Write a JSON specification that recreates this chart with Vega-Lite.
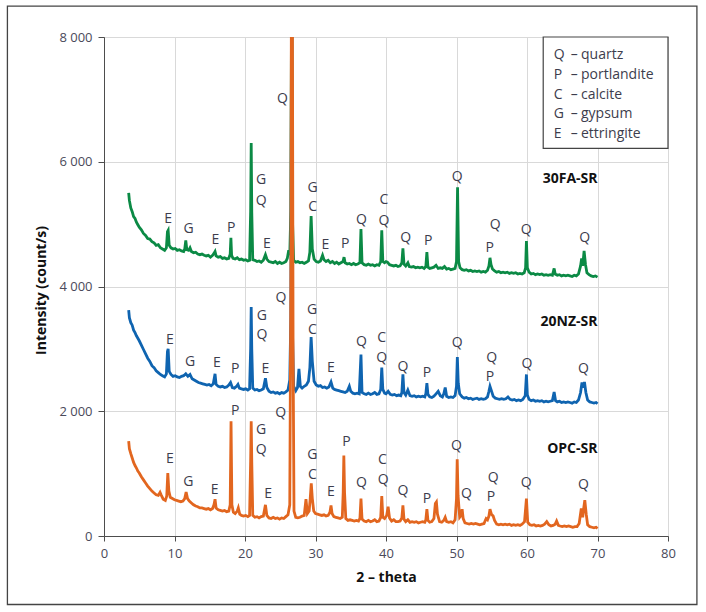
{
  "$schema": "https://vega.github.io/schema/vega-lite/v6.json",
  "width": 564,
  "height": 499,
  "autosize": {"type": "none"},
  "padding": {"left": 104, "top": 37, "right": 38, "bottom": 76},
  "background": "white",
  "config": {
    "font": "Open Sans",
    "view": {"stroke": "#4d4d4d", "strokeWidth": 1},
    "axis": {
      "domainColor": "#4d4d4d",
      "tickColor": "#4d4d4d",
      "gridColor": "#d9d9d9",
      "labelColor": "#4a4a5a",
      "labelFont": "Open Sans",
      "labelFontSize": 13,
      "titleFont": "Open Sans",
      "titleFontSize": 14,
      "titleFontWeight": "bold",
      "titleColor": "#111111"
    },
    "text": {"font": "Open Sans"}
  },
  "datasets": {
    "frame": [{"x": -13.7, "x2": 84.1, "y": -1098, "y2": 8494}],
    "legendbox": [{"x": 62.3, "x2": 80, "y": 6213, "y2": 8000}],
    "legend": [
      {"x": 63.8, "y": 7710, "t": "Q"}, {"x": 66.2, "y": 7710, "t": "–"}, {"x": 67.66, "y": 7710, "t": "quartz"},
      {"x": 63.8, "y": 7395, "t": "P"}, {"x": 66.2, "y": 7395, "t": "–"}, {"x": 67.66, "y": 7395, "t": "portlandite"},
      {"x": 63.8, "y": 7078, "t": "C"}, {"x": 66.2, "y": 7078, "t": "–"}, {"x": 67.66, "y": 7078, "t": "calcite"},
      {"x": 63.8, "y": 6758, "t": "G"}, {"x": 66.2, "y": 6758, "t": "–"}, {"x": 67.66, "y": 6758, "t": "gypsum"},
      {"x": 63.8, "y": 6437, "t": "E"}, {"x": 66.2, "y": 6437, "t": "–"}, {"x": 67.66, "y": 6437, "t": "ettringite"}
    ],
    "names": [
      {"x": 70, "y": 5730, "t": "30FA-SR"},
      {"x": 70, "y": 3430, "t": "20NZ-SR"},
      {"x": 70, "y": 1400, "t": "OPC-SR"}
    ],
    "labels": [
      {"x": 9.1, "y": 5080, "t": "E"}, {"x": 12.0, "y": 4920, "t": "G"}, {"x": 15.8, "y": 4740, "t": "E"},
      {"x": 18.06, "y": 4930, "t": "P"}, {"x": 22.3, "y": 5700, "t": "G"}, {"x": 22.3, "y": 5370, "t": "Q"},
      {"x": 23.1, "y": 4680, "t": "E"}, {"x": 25.3, "y": 7010, "t": "Q"}, {"x": 29.6, "y": 5580, "t": "G"},
      {"x": 29.6, "y": 5270, "t": "C"}, {"x": 31.4, "y": 4660, "t": "E"}, {"x": 34.2, "y": 4680, "t": "P"},
      {"x": 36.5, "y": 5060, "t": "Q"}, {"x": 39.7, "y": 5380, "t": "C"}, {"x": 39.7, "y": 5050, "t": "Q"},
      {"x": 42.8, "y": 4780, "t": "Q"}, {"x": 46.0, "y": 4730, "t": "P"}, {"x": 50.1, "y": 5760, "t": "Q"},
      {"x": 55.5, "y": 4980, "t": "Q"}, {"x": 54.7, "y": 4610, "t": "P"}, {"x": 59.9, "y": 4910, "t": "Q"},
      {"x": 68.2, "y": 4770, "t": "Q"},
      {"x": 9.36, "y": 3150, "t": "E"}, {"x": 12.2, "y": 2790, "t": "G"}, {"x": 16.0, "y": 2770, "t": "E"},
      {"x": 18.6, "y": 2670, "t": "P"}, {"x": 22.4, "y": 3530, "t": "G"}, {"x": 22.4, "y": 3220, "t": "Q"},
      {"x": 22.9, "y": 2670, "t": "E"}, {"x": 25.1, "y": 3810, "t": "Q"}, {"x": 29.5, "y": 3630, "t": "G"},
      {"x": 29.55, "y": 3310, "t": "C"}, {"x": 32.2, "y": 2690, "t": "E"}, {"x": 36.5, "y": 3110, "t": "Q"},
      {"x": 39.4, "y": 3170, "t": "C"}, {"x": 39.4, "y": 2860, "t": "Q"}, {"x": 42.4, "y": 2710, "t": "Q"},
      {"x": 45.8, "y": 2610, "t": "P"}, {"x": 50.1, "y": 3100, "t": "Q"}, {"x": 55.0, "y": 2850, "t": "Q"},
      {"x": 54.75, "y": 2550, "t": "P"}, {"x": 60.0, "y": 2760, "t": "Q"}, {"x": 68.0, "y": 2680, "t": "Q"},
      {"x": 9.36, "y": 1240, "t": "E"}, {"x": 11.96, "y": 870, "t": "G"}, {"x": 15.7, "y": 730, "t": "E"},
      {"x": 18.6, "y": 2010, "t": "P"}, {"x": 22.3, "y": 1700, "t": "G"}, {"x": 22.3, "y": 1380, "t": "Q"},
      {"x": 25.05, "y": 1970, "t": "Q"}, {"x": 23.3, "y": 680, "t": "E"}, {"x": 29.55, "y": 1300, "t": "G"},
      {"x": 29.55, "y": 970, "t": "C"}, {"x": 32.2, "y": 705, "t": "E"}, {"x": 34.4, "y": 1510, "t": "P"},
      {"x": 36.5, "y": 855, "t": "Q"}, {"x": 39.5, "y": 1220, "t": "C"}, {"x": 39.6, "y": 890, "t": "Q"},
      {"x": 42.4, "y": 720, "t": "Q"}, {"x": 45.8, "y": 600, "t": "P"}, {"x": 50.0, "y": 1440, "t": "Q"},
      {"x": 51.4, "y": 680, "t": "Q"}, {"x": 55.2, "y": 930, "t": "Q"}, {"x": 54.9, "y": 630, "t": "P"},
      {"x": 59.9, "y": 855, "t": "Q"}, {"x": 68.0, "y": 820, "t": "Q"}
    ],
    "g": [
      {"x":3.5,"y":5500},{"x":3.6,"y":5380},{"x":3.8,"y":5260},{"x":4.0,"y":5200},{"x":4.2,"y":5120},{"x":4.4,"y":5090},
      {"x":4.6,"y":5030},{"x":4.8,"y":4990},{"x":5.0,"y":4950},{"x":5.3,"y":4910},{"x":5.6,"y":4850},{"x":5.9,"y":4820},
      {"x":6.2,"y":4770},{"x":6.5,"y":4760},{"x":6.8,"y":4720},{"x":7.1,"y":4700},{"x":7.4,"y":4660},{"x":7.7,"y":4670},
      {"x":8.0,"y":4620},{"x":8.3,"y":4600},{"x":8.6,"y":4580},{"x":8.85,"y":4620},{"x":9.0,"y":4880},{"x":9.1,"y":4900},
      {"x":9.25,"y":4660},{"x":9.5,"y":4620},{"x":9.8,"y":4600},{"x":10.1,"y":4610},{"x":10.4,"y":4580},{"x":10.7,"y":4590},
      {"x":11.0,"y":4570},{"x":11.3,"y":4560},{"x":11.45,"y":4600},{"x":11.6,"y":4740},{"x":11.75,"y":4590},{"x":12.0,"y":4580},
      {"x":12.2,"y":4620},{"x":12.4,"y":4560},{"x":12.7,"y":4540},{"x":13.0,"y":4550},{"x":13.3,"y":4520},{"x":13.6,"y":4510},
      {"x":13.9,"y":4520},{"x":14.2,"y":4500},{"x":14.5,"y":4490},{"x":14.8,"y":4500},{"x":15.1,"y":4470},{"x":15.4,"y":4500},
      {"x":15.6,"y":4530},{"x":15.75,"y":4560},{"x":15.9,"y":4490},{"x":16.2,"y":4470},{"x":16.5,"y":4480},{"x":16.8,"y":4450},
      {"x":17.1,"y":4460},{"x":17.4,"y":4440},{"x":17.7,"y":4450},{"x":17.9,"y":4520},{"x":18.0,"y":4780},{"x":18.1,"y":4500},
      {"x":18.3,"y":4450},{"x":18.6,"y":4440},{"x":18.9,"y":4460},{"x":19.2,"y":4430},{"x":19.5,"y":4440},{"x":19.8,"y":4420},
      {"x":20.1,"y":4430},{"x":20.4,"y":4410},{"x":20.65,"y":4420},{"x":20.8,"y":5200},{"x":20.88,"y":6300},{"x":20.96,"y":5200},
      {"x":21.1,"y":4430},{"x":21.4,"y":4420},{"x":21.7,"y":4400},{"x":22.0,"y":4410},{"x":22.3,"y":4390},{"x":22.6,"y":4420},
      {"x":22.9,"y":4510},{"x":23.1,"y":4440},{"x":23.4,"y":4400},{"x":23.7,"y":4390},{"x":24.0,"y":4380},{"x":24.3,"y":4400},
      {"x":24.6,"y":4370},{"x":24.9,"y":4390},{"x":25.2,"y":4370},{"x":25.5,"y":4380},{"x":25.8,"y":4400},{"x":26.0,"y":4450},
      {"x":26.2,"y":4580},{"x":26.35,"y":4500},{"x":26.5,"y":5200},{"x":26.62,"y":9000},{"x":26.75,"y":5000},{"x":26.9,"y":4420},
      {"x":27.2,"y":4390},{"x":27.5,"y":4400},{"x":27.8,"y":4380},{"x":28.1,"y":4390},{"x":28.4,"y":4370},{"x":28.7,"y":4390},
      {"x":29.0,"y":4410},{"x":29.2,"y":4550},{"x":29.38,"y":5130},{"x":29.55,"y":4600},{"x":29.8,"y":4440},{"x":30.1,"y":4400},
      {"x":30.4,"y":4390},{"x":30.7,"y":4410},{"x":31.0,"y":4500},{"x":31.2,"y":4430},{"x":31.5,"y":4400},{"x":31.8,"y":4420},
      {"x":32.1,"y":4380},{"x":32.4,"y":4400},{"x":32.7,"y":4370},{"x":33.0,"y":4390},{"x":33.3,"y":4360},{"x":33.6,"y":4380},
      {"x":33.9,"y":4400},{"x":34.05,"y":4470},{"x":34.2,"y":4380},{"x":34.5,"y":4360},{"x":34.8,"y":4370},{"x":35.1,"y":4350},
      {"x":35.4,"y":4370},{"x":35.7,"y":4350},{"x":36.0,"y":4360},{"x":36.3,"y":4380},{"x":36.45,"y":4920},{"x":36.6,"y":4380},
      {"x":36.9,"y":4350},{"x":37.2,"y":4340},{"x":37.5,"y":4360},{"x":37.8,"y":4340},{"x":38.1,"y":4350},{"x":38.4,"y":4330},
      {"x":38.7,"y":4350},{"x":39.0,"y":4340},{"x":39.25,"y":4400},{"x":39.4,"y":4900},{"x":39.55,"y":4400},{"x":39.8,"y":4380},
      {"x":40.0,"y":4400},{"x":40.2,"y":4390},{"x":40.5,"y":4350},{"x":40.8,"y":4340},{"x":41.1,"y":4330},{"x":41.4,"y":4340},
      {"x":41.7,"y":4320},{"x":42.0,"y":4330},{"x":42.25,"y":4380},{"x":42.4,"y":4610},{"x":42.55,"y":4360},{"x":42.8,"y":4330},
      {"x":43.1,"y":4380},{"x":43.3,"y":4320},{"x":43.6,"y":4310},{"x":43.9,"y":4320},{"x":44.2,"y":4300},{"x":44.5,"y":4310},
      {"x":44.8,"y":4300},{"x":45.1,"y":4310},{"x":45.4,"y":4290},{"x":45.65,"y":4320},{"x":45.8,"y":4550},{"x":45.95,"y":4310},
      {"x":46.2,"y":4290},{"x":46.5,"y":4300},{"x":46.8,"y":4310},{"x":47.1,"y":4340},{"x":47.4,"y":4290},{"x":47.7,"y":4300},
      {"x":48.0,"y":4290},{"x":48.3,"y":4320},{"x":48.6,"y":4280},{"x":48.9,"y":4290},{"x":49.2,"y":4270},{"x":49.5,"y":4280},
      {"x":49.8,"y":4290},{"x":50.0,"y":4400},{"x":50.15,"y":5590},{"x":50.3,"y":4400},{"x":50.5,"y":4300},{"x":50.8,"y":4270},
      {"x":51.1,"y":4260},{"x":51.4,"y":4270},{"x":51.7,"y":4250},{"x":52.0,"y":4260},{"x":52.3,"y":4240},{"x":52.6,"y":4250},
      {"x":52.9,"y":4240},{"x":53.2,"y":4250},{"x":53.5,"y":4230},{"x":53.8,"y":4240},{"x":54.1,"y":4230},{"x":54.4,"y":4260},
      {"x":54.6,"y":4330},{"x":54.75,"y":4460},{"x":54.9,"y":4350},{"x":55.1,"y":4280},{"x":55.4,"y":4250},{"x":55.7,"y":4230},
      {"x":56.0,"y":4240},{"x":56.3,"y":4220},{"x":56.6,"y":4230},{"x":56.9,"y":4220},{"x":57.2,"y":4230},{"x":57.5,"y":4210},
      {"x":57.8,"y":4220},{"x":58.1,"y":4210},{"x":58.4,"y":4220},{"x":58.7,"y":4200},{"x":59.0,"y":4210},{"x":59.3,"y":4200},
      {"x":59.6,"y":4220},{"x":59.8,"y":4300},{"x":59.92,"y":4730},{"x":60.05,"y":4300},{"x":60.3,"y":4230},{"x":60.6,"y":4200},
      {"x":60.9,"y":4210},{"x":61.2,"y":4190},{"x":61.5,"y":4200},{"x":61.8,"y":4190},{"x":62.1,"y":4200},{"x":62.4,"y":4180},
      {"x":62.7,"y":4190},{"x":63.0,"y":4180},{"x":63.3,"y":4190},{"x":63.6,"y":4180},{"x":63.85,"y":4290},{"x":64.0,"y":4200},
      {"x":64.3,"y":4180},{"x":64.6,"y":4190},{"x":64.9,"y":4170},{"x":65.2,"y":4180},{"x":65.5,"y":4170},{"x":65.8,"y":4180},
      {"x":66.1,"y":4170},{"x":66.4,"y":4160},{"x":66.7,"y":4180},{"x":67.0,"y":4170},{"x":67.3,"y":4200},{"x":67.6,"y":4330},
      {"x":67.75,"y":4450},{"x":67.9,"y":4330},{"x":68.1,"y":4570},{"x":68.3,"y":4350},{"x":68.5,"y":4220},{"x":68.8,"y":4190},
      {"x":69.1,"y":4170},{"x":69.4,"y":4160},{"x":69.7,"y":4170},{"x":70.0,"y":4150}
    ],
    "b": [
      {"x":3.5,"y":3620},{"x":3.6,"y":3500},{"x":3.8,"y":3420},{"x":4.0,"y":3380},{"x":4.2,"y":3300},{"x":4.4,"y":3260},
      {"x":4.6,"y":3210},{"x":4.8,"y":3170},{"x":5.0,"y":3130},{"x":5.3,"y":3060},{"x":5.6,"y":2990},{"x":5.9,"y":2920},
      {"x":6.2,"y":2850},{"x":6.5,"y":2800},{"x":6.8,"y":2730},{"x":7.1,"y":2700},{"x":7.4,"y":2650},{"x":7.7,"y":2620},
      {"x":8.0,"y":2590},{"x":8.3,"y":2570},{"x":8.6,"y":2550},{"x":8.85,"y":2600},{"x":9.0,"y":2960},{"x":9.1,"y":3000},
      {"x":9.25,"y":2640},{"x":9.5,"y":2590},{"x":9.8,"y":2560},{"x":10.1,"y":2570},{"x":10.4,"y":2550},{"x":10.7,"y":2540},
      {"x":11.0,"y":2560},{"x":11.3,"y":2570},{"x":11.6,"y":2600},{"x":11.9,"y":2560},{"x":12.2,"y":2590},{"x":12.5,"y":2520},
      {"x":12.8,"y":2500},{"x":13.1,"y":2480},{"x":13.4,"y":2460},{"x":13.7,"y":2450},{"x":14.0,"y":2440},{"x":14.3,"y":2430},
      {"x":14.6,"y":2420},{"x":14.9,"y":2430},{"x":15.2,"y":2410},{"x":15.5,"y":2440},{"x":15.75,"y":2600},{"x":15.9,"y":2430},
      {"x":16.2,"y":2400},{"x":16.5,"y":2390},{"x":16.8,"y":2400},{"x":17.1,"y":2380},{"x":17.4,"y":2390},{"x":17.7,"y":2420},
      {"x":17.95,"y":2460},{"x":18.2,"y":2380},{"x":18.5,"y":2370},{"x":18.8,"y":2400},{"x":19.0,"y":2430},{"x":19.2,"y":2370},
      {"x":19.5,"y":2360},{"x":19.8,"y":2350},{"x":20.1,"y":2360},{"x":20.4,"y":2340},{"x":20.65,"y":2360},{"x":20.8,"y":3000},
      {"x":20.88,"y":3670},{"x":20.96,"y":3000},{"x":21.1,"y":2370},{"x":21.4,"y":2340},{"x":21.7,"y":2350},{"x":22.0,"y":2330},
      {"x":22.3,"y":2340},{"x":22.6,"y":2360},{"x":22.9,"y":2530},{"x":23.1,"y":2380},{"x":23.4,"y":2320},{"x":23.7,"y":2300},
      {"x":24.0,"y":2310},{"x":24.3,"y":2290},{"x":24.6,"y":2300},{"x":24.9,"y":2280},{"x":25.2,"y":2300},{"x":25.5,"y":2290},
      {"x":25.8,"y":2310},{"x":26.1,"y":2340},{"x":26.35,"y":2500},{"x":26.5,"y":3500},{"x":26.62,"y":9000},{"x":26.75,"y":3200},
      {"x":26.9,"y":2400},{"x":27.2,"y":2330},{"x":27.45,"y":2380},{"x":27.65,"y":2680},{"x":27.85,"y":2400},{"x":28.1,"y":2370},
      {"x":28.4,"y":2400},{"x":28.7,"y":2420},{"x":29.0,"y":2480},{"x":29.2,"y":2700},{"x":29.38,"y":3190},{"x":29.55,"y":2800},
      {"x":29.8,"y":2480},{"x":30.1,"y":2420},{"x":30.4,"y":2400},{"x":30.7,"y":2410},{"x":31.0,"y":2380},{"x":31.3,"y":2390},
      {"x":31.6,"y":2370},{"x":31.9,"y":2390},{"x":32.2,"y":2470},{"x":32.45,"y":2370},{"x":32.7,"y":2350},{"x":33.0,"y":2340},
      {"x":33.3,"y":2330},{"x":33.6,"y":2320},{"x":33.9,"y":2310},{"x":34.2,"y":2300},{"x":34.5,"y":2320},{"x":34.8,"y":2400},
      {"x":35.0,"y":2320},{"x":35.3,"y":2290},{"x":35.6,"y":2280},{"x":35.9,"y":2290},{"x":36.2,"y":2280},{"x":36.45,"y":2910},
      {"x":36.6,"y":2300},{"x":36.9,"y":2280},{"x":37.2,"y":2270},{"x":37.5,"y":2290},{"x":37.8,"y":2270},{"x":38.1,"y":2280},
      {"x":38.4,"y":2300},{"x":38.7,"y":2270},{"x":39.0,"y":2280},{"x":39.25,"y":2350},{"x":39.4,"y":2700},{"x":39.55,"y":2350},
      {"x":39.8,"y":2290},{"x":40.0,"y":2280},{"x":40.3,"y":2320},{"x":40.6,"y":2270},{"x":40.9,"y":2260},{"x":41.2,"y":2270},
      {"x":41.5,"y":2250},{"x":41.8,"y":2260},{"x":42.1,"y":2250},{"x":42.25,"y":2300},{"x":42.4,"y":2590},{"x":42.55,"y":2300},
      {"x":42.8,"y":2260},{"x":43.1,"y":2340},{"x":43.4,"y":2250},{"x":43.7,"y":2240},{"x":44.0,"y":2250},{"x":44.3,"y":2230},
      {"x":44.6,"y":2240},{"x":44.9,"y":2230},{"x":45.2,"y":2240},{"x":45.5,"y":2230},{"x":45.65,"y":2280},{"x":45.8,"y":2450},
      {"x":45.95,"y":2270},{"x":46.2,"y":2230},{"x":46.5,"y":2220},{"x":46.8,"y":2240},{"x":47.1,"y":2280},{"x":47.4,"y":2320},
      {"x":47.7,"y":2250},{"x":48.0,"y":2230},{"x":48.2,"y":2280},{"x":48.4,"y":2380},{"x":48.6,"y":2240},{"x":48.9,"y":2220},
      {"x":49.2,"y":2230},{"x":49.5,"y":2220},{"x":49.8,"y":2250},{"x":50.0,"y":2400},{"x":50.12,"y":2870},{"x":50.25,"y":2450},
      {"x":50.45,"y":2280},{"x":50.8,"y":2230},{"x":51.1,"y":2210},{"x":51.4,"y":2220},{"x":51.7,"y":2200},{"x":52.0,"y":2210},
      {"x":52.3,"y":2190},{"x":52.6,"y":2200},{"x":52.9,"y":2210},{"x":53.2,"y":2190},{"x":53.5,"y":2200},{"x":53.8,"y":2190},
      {"x":54.1,"y":2200},{"x":54.4,"y":2230},{"x":54.6,"y":2320},{"x":54.75,"y":2400},{"x":54.95,"y":2330},{"x":55.2,"y":2240},
      {"x":55.5,"y":2210},{"x":55.8,"y":2200},{"x":56.1,"y":2190},{"x":56.4,"y":2200},{"x":56.7,"y":2190},{"x":57.0,"y":2200},
      {"x":57.3,"y":2230},{"x":57.6,"y":2190},{"x":57.9,"y":2180},{"x":58.2,"y":2190},{"x":58.5,"y":2170},{"x":58.8,"y":2180},
      {"x":59.1,"y":2170},{"x":59.4,"y":2190},{"x":59.75,"y":2250},{"x":59.92,"y":2590},{"x":60.05,"y":2260},{"x":60.3,"y":2190},
      {"x":60.6,"y":2170},{"x":60.9,"y":2180},{"x":61.2,"y":2160},{"x":61.5,"y":2170},{"x":61.8,"y":2160},{"x":62.1,"y":2170},
      {"x":62.4,"y":2150},{"x":62.7,"y":2160},{"x":63.0,"y":2150},{"x":63.3,"y":2160},{"x":63.6,"y":2170},{"x":63.85,"y":2310},
      {"x":64.05,"y":2170},{"x":64.3,"y":2150},{"x":64.6,"y":2160},{"x":64.9,"y":2140},{"x":65.2,"y":2150},{"x":65.5,"y":2140},
      {"x":65.8,"y":2150},{"x":66.1,"y":2140},{"x":66.4,"y":2130},{"x":66.7,"y":2150},{"x":67.0,"y":2140},{"x":67.3,"y":2180},
      {"x":67.6,"y":2300},{"x":67.8,"y":2460},{"x":68.0,"y":2380},{"x":68.15,"y":2470},{"x":68.35,"y":2300},{"x":68.6,"y":2180},
      {"x":68.9,"y":2150},{"x":69.2,"y":2140},{"x":69.5,"y":2130},{"x":69.8,"y":2140},{"x":70.0,"y":2120}
    ],
    "o": [
      {"x":3.5,"y":1520},{"x":3.6,"y":1400},{"x":3.8,"y":1320},{"x":4.0,"y":1250},{"x":4.2,"y":1180},{"x":4.4,"y":1130},
      {"x":4.6,"y":1090},{"x":4.8,"y":1040},{"x":5.0,"y":1010},{"x":5.3,"y":950},{"x":5.6,"y":900},{"x":5.9,"y":850},
      {"x":6.2,"y":800},{"x":6.5,"y":760},{"x":6.8,"y":720},{"x":7.1,"y":690},{"x":7.4,"y":660},{"x":7.7,"y":650},
      {"x":7.95,"y":700},{"x":8.1,"y":660},{"x":8.4,"y":590},{"x":8.7,"y":570},{"x":8.9,"y":640},{"x":9.05,"y":1010},
      {"x":9.2,"y":720},{"x":9.4,"y":620},{"x":9.7,"y":600},{"x":10.0,"y":580},{"x":10.3,"y":570},{"x":10.6,"y":560},
      {"x":10.9,"y":550},{"x":11.2,"y":560},{"x":11.45,"y":600},{"x":11.65,"y":705},{"x":11.85,"y":600},{"x":12.1,"y":560},
      {"x":12.4,"y":530},{"x":12.7,"y":500},{"x":13.0,"y":480},{"x":13.3,"y":470},{"x":13.6,"y":450},{"x":13.9,"y":450},
      {"x":14.2,"y":440},{"x":14.5,"y":430},{"x":14.8,"y":440},{"x":15.1,"y":420},{"x":15.4,"y":440},{"x":15.6,"y":500},
      {"x":15.75,"y":590},{"x":15.9,"y":450},{"x":16.2,"y":420},{"x":16.5,"y":410},{"x":16.8,"y":400},{"x":17.1,"y":410},
      {"x":17.4,"y":390},{"x":17.7,"y":400},{"x":17.9,"y":500},{"x":18.02,"y":1840},{"x":18.14,"y":500},{"x":18.35,"y":380},
      {"x":18.6,"y":360},{"x":18.9,"y":400},{"x":19.05,"y":450},{"x":19.25,"y":350},{"x":19.5,"y":330},{"x":19.8,"y":320},
      {"x":20.1,"y":330},{"x":20.4,"y":310},{"x":20.65,"y":330},{"x":20.8,"y":1200},{"x":20.88,"y":1840},{"x":20.96,"y":1200},
      {"x":21.1,"y":330},{"x":21.4,"y":300},{"x":21.7,"y":310},{"x":22.0,"y":290},{"x":22.3,"y":310},{"x":22.6,"y":320},
      {"x":22.9,"y":500},{"x":23.1,"y":330},{"x":23.4,"y":290},{"x":23.7,"y":280},{"x":24.0,"y":300},{"x":24.3,"y":280},
      {"x":24.6,"y":290},{"x":24.9,"y":270},{"x":25.2,"y":290},{"x":25.5,"y":280},{"x":25.8,"y":310},{"x":26.1,"y":340},
      {"x":26.35,"y":500},{"x":26.5,"y":4000},{"x":26.58,"y":8600},{"x":26.72,"y":8600},{"x":26.82,"y":3000},{"x":26.95,"y":400},
      {"x":27.2,"y":300},{"x":27.5,"y":290},{"x":27.8,"y":300},{"x":28.1,"y":320},{"x":28.4,"y":330},{"x":28.65,"y":590},
      {"x":28.85,"y":360},{"x":29.1,"y":400},{"x":29.25,"y":600},{"x":29.4,"y":845},{"x":29.55,"y":600},{"x":29.75,"y":400},
      {"x":30.0,"y":360},{"x":30.3,"y":350},{"x":30.6,"y":340},{"x":30.9,"y":330},{"x":31.2,"y":340},{"x":31.5,"y":320},
      {"x":31.8,"y":330},{"x":32.05,"y":380},{"x":32.2,"y":490},{"x":32.35,"y":360},{"x":32.6,"y":310},{"x":32.9,"y":300},
      {"x":33.2,"y":290},{"x":33.5,"y":280},{"x":33.8,"y":300},{"x":33.93,"y":700},{"x":34.02,"y":1290},{"x":34.12,"y":700},
      {"x":34.3,"y":280},{"x":34.6,"y":250},{"x":34.9,"y":260},{"x":35.2,"y":250},{"x":35.5,"y":240},{"x":35.8,"y":250},
      {"x":36.1,"y":240},{"x":36.3,"y":280},{"x":36.45,"y":600},{"x":36.6,"y":270},{"x":36.9,"y":240},{"x":37.2,"y":230},
      {"x":37.5,"y":250},{"x":37.8,"y":230},{"x":38.1,"y":240},{"x":38.4,"y":260},{"x":38.7,"y":230},{"x":39.0,"y":240},
      {"x":39.25,"y":300},{"x":39.4,"y":640},{"x":39.55,"y":300},{"x":39.8,"y":280},{"x":40.1,"y":330},{"x":40.3,"y":470},
      {"x":40.5,"y":290},{"x":40.8,"y":240},{"x":41.1,"y":260},{"x":41.4,"y":230},{"x":41.7,"y":230},{"x":42.0,"y":240},
      {"x":42.25,"y":290},{"x":42.4,"y":490},{"x":42.55,"y":270},{"x":42.8,"y":230},{"x":43.1,"y":260},{"x":43.4,"y":220},
      {"x":43.7,"y":230},{"x":44.0,"y":220},{"x":44.3,"y":230},{"x":44.6,"y":210},{"x":44.9,"y":220},{"x":45.2,"y":230},
      {"x":45.5,"y":220},{"x":45.65,"y":260},{"x":45.8,"y":430},{"x":45.95,"y":250},{"x":46.2,"y":220},{"x":46.5,"y":230},
      {"x":46.8,"y":280},{"x":47.0,"y":520},{"x":47.15,"y":545},{"x":47.3,"y":350},{"x":47.6,"y":230},{"x":47.9,"y":220},
      {"x":48.2,"y":250},{"x":48.4,"y":300},{"x":48.6,"y":230},{"x":48.9,"y":220},{"x":49.2,"y":230},{"x":49.5,"y":210},
      {"x":49.8,"y":260},{"x":50.0,"y":600},{"x":50.1,"y":1230},{"x":50.22,"y":650},{"x":50.45,"y":300},{"x":50.65,"y":330},
      {"x":50.8,"y":430},{"x":50.95,"y":280},{"x":51.2,"y":210},{"x":51.5,"y":200},{"x":51.8,"y":190},{"x":52.1,"y":200},
      {"x":52.4,"y":190},{"x":52.7,"y":200},{"x":53.0,"y":190},{"x":53.3,"y":180},{"x":53.6,"y":190},{"x":53.9,"y":200},
      {"x":54.2,"y":280},{"x":54.4,"y":260},{"x":54.6,"y":320},{"x":54.75,"y":430},{"x":54.95,"y":350},{"x":55.2,"y":320},
      {"x":55.4,"y":250},{"x":55.7,"y":190},{"x":56.0,"y":180},{"x":56.3,"y":190},{"x":56.6,"y":180},{"x":56.9,"y":190},
      {"x":57.2,"y":180},{"x":57.5,"y":190},{"x":57.8,"y":170},{"x":58.1,"y":180},{"x":58.4,"y":170},{"x":58.7,"y":180},
      {"x":59.0,"y":170},{"x":59.3,"y":190},{"x":59.65,"y":230},{"x":59.92,"y":600},{"x":60.1,"y":220},{"x":60.4,"y":180},
      {"x":60.7,"y":170},{"x":61.0,"y":180},{"x":61.3,"y":160},{"x":61.6,"y":170},{"x":61.9,"y":160},{"x":62.2,"y":170},
      {"x":62.5,"y":190},{"x":62.8,"y":230},{"x":63.1,"y":180},{"x":63.4,"y":160},{"x":63.7,"y":170},{"x":64.0,"y":190},
      {"x":64.2,"y":240},{"x":64.45,"y":170},{"x":64.7,"y":160},{"x":65.0,"y":150},{"x":65.3,"y":160},{"x":65.6,"y":150},
      {"x":65.9,"y":160},{"x":66.2,"y":150},{"x":66.5,"y":140},{"x":66.8,"y":150},{"x":67.1,"y":150},{"x":67.4,"y":200},
      {"x":67.7,"y":440},{"x":67.9,"y":300},{"x":68.05,"y":450},{"x":68.2,"y":575},{"x":68.4,"y":350},{"x":68.6,"y":180},
      {"x":68.9,"y":150},{"x":69.2,"y":140},{"x":69.5,"y":130},{"x":69.8,"y":140},{"x":70.0,"y":120}
    ]
  },
  "encoding": {
    "x": {
      "field": "x",
      "type": "quantitative",
      "scale": {"domain": [0, 80], "nice": false, "zero": false},
      "axis": {
        "values": [0, 10, 20, 30, 40, 50, 60, 70, 80],
        "tickSize": 5,
        "labelPadding": 6,
        "labelFlush": false,
        "title": "2 – theta",
        "titleY": 41,
        "titleBaseline": "middle",
        "titleAlign": "center"
      }
    },
    "y": {
      "field": "y",
      "type": "quantitative",
      "scale": {"domain": [0, 8000], "nice": false},
      "axis": {
        "values": [0, 2000, 4000, 6000, 8000],
        "tickSize": 6,
        "labelPadding": 6,
        "labelFlush": false,
        "labelExpr": "datum.value == 0 ? '0' : floor(datum.value / 1000) + ' 000'",
        "title": "Intensity (count/s)",
        "titleX": -63,
        "titleY": 253,
        "titleAngle": -90,
        "titleAlign": "center",
        "titleBaseline": "middle"
      }
    }
  },
  "layer": [
    {
      "data": {"name": "frame"},
      "mark": {"type": "rect", "filled": false, "stroke": "#444444", "strokeWidth": 1.3, "clip": false},
      "encoding": {"x2": {"field": "x2"}, "y2": {"field": "y2"}}
    },
    {
      "data": {"name": "legendbox"},
      "mark": {"type": "rect", "fill": "white", "stroke": "#444444", "strokeWidth": 1.2},
      "encoding": {"x2": {"field": "x2"}, "y2": {"field": "y2"}}
    },
    {
      "data": {"name": "g"},
      "mark": {"type": "line", "color": "#0b8a45", "strokeWidth": 2.8, "clip": true}
    },
    {
      "data": {"name": "b"},
      "mark": {"type": "line", "color": "#0f64b0", "strokeWidth": 2.8, "clip": true}
    },
    {
      "data": {"name": "o"},
      "mark": {"type": "line", "color": "#e2661f", "strokeWidth": 2.8, "clip": true}
    },
    {
      "data": {"name": "labels"},
      "mark": {"type": "text", "fontSize": 14, "color": "#3d3d4d", "align": "center", "baseline": "middle"},
      "encoding": {"text": {"field": "t"}}
    },
    {
      "data": {"name": "names"},
      "mark": {"type": "text", "fontSize": 14, "fontWeight": "bold", "color": "#111111", "align": "right", "baseline": "middle"},
      "encoding": {"text": {"field": "t"}}
    },
    {
      "data": {"name": "legend"},
      "mark": {"type": "text", "fontSize": 14, "color": "#3d3d4d", "align": "left", "baseline": "middle"},
      "encoding": {"text": {"field": "t"}}
    }
  ]
}
